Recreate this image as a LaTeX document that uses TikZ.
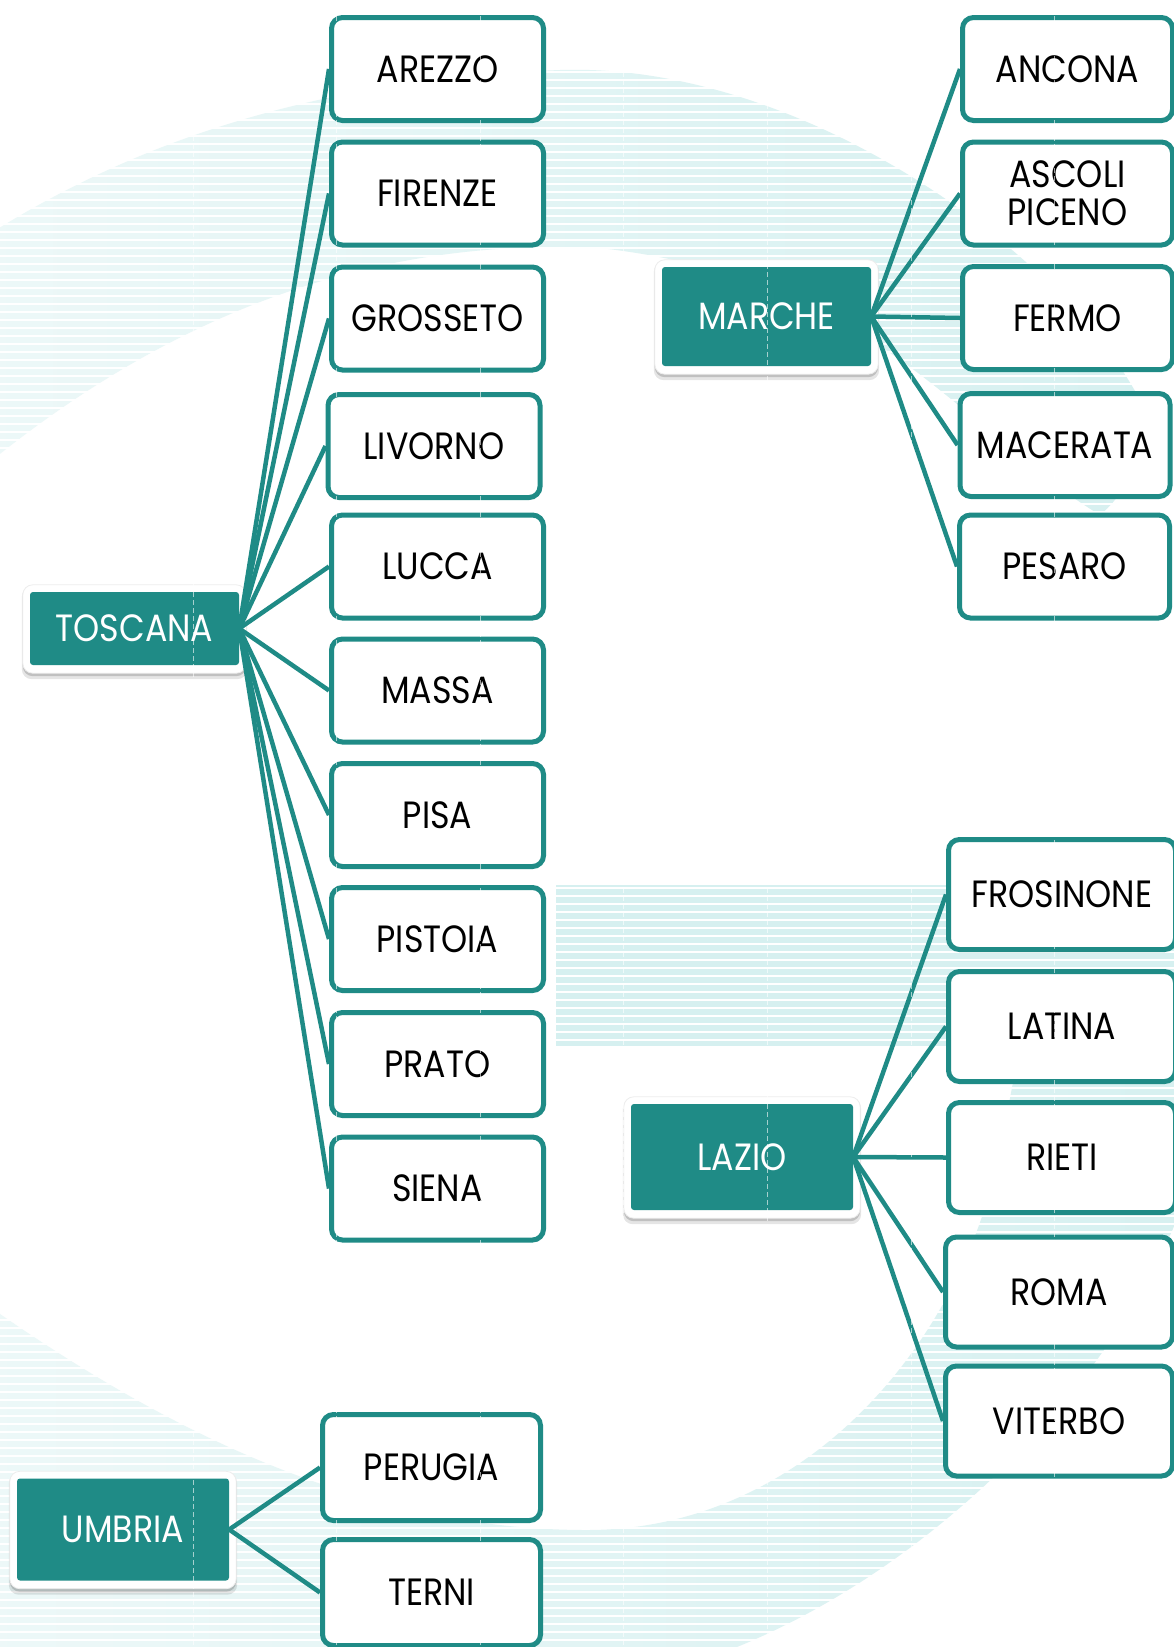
\documentclass[tikz,border=0pt]{standalone}
\usepackage{fontspec}
\setmainfont{Poppins}[FakeStretch=0.875]
\usetikzlibrary{calc}
\pgfdeclarelayer{bg}
\pgfsetlayers{bg,main}
\definecolor{tealmain}{HTML}{1F8B86}
\definecolor{bandstrong}{HTML}{D6F0F0}
\definecolor{bandsoft}{HTML}{EDF8F8}

\begin{document}
\begin{tikzpicture}[x=1pt,y=-1pt,
  leaf/.style={draw=tealmain, line width=5pt, fill=white, rounded corners=11pt,
    minimum width=212pt, minimum height=103pt, inner sep=0pt, align=center,
    text=black, font=\fontsize{38}{38}\selectfont},
  region/.style={fill=tealmain, text=white, rounded corners=3pt, inner sep=0pt,
    font=\fontsize{38}{38}\selectfont},
  link/.style={draw=tealmain, line width=4.5pt},
  frame/.style={fill=white, draw=black!7, line width=0.8pt, rounded corners=10pt},
  softshadow/.style={fill=black, rounded corners=10pt},
  stripe/.style={draw=white, line width=2pt},
  seam/.style={draw=white, opacity=0.6, line width=0.8pt, dash pattern=on 5pt off 3pt}]

\useasboundingbox (0,0) rectangle (1174,1647);

% ---- decorative striped bands behind the chart ----
\begin{pgfonlayer}{bg}
\begin{scope}
  \clip (0,0) rectangle (1174,1647);
  \fill[white] (0,0) rectangle (1174,1647);
  % upper arc
  \shade[left color=bandsoft, right color=bandstrong]
    (-20,240) .. controls (120,150) and (300,80) .. (560,70)
    .. controls (800,62) and (1060,250) .. (1140,400)
    .. controls (1150,450) and (1125,495) .. (1100,515)
    .. controls (960,430) and (880,280) .. (600,248)
    .. controls (350,236) and (150,330) .. (-20,470) -- cycle;
  % horizontal bar
  \fill[bandstrong] (556,885) rectangle (1190,1046);
  % lower arc
  \shade[left color=bandsoft, right color=bandstrong]
    (-20,1300) .. controls (150,1420) and (350,1530) .. (587,1530)
    .. controls (800,1530) and (960,1350) .. (1000,1150)
    -- (1020,1046) -- (1200,1046) -- (1200,1150)
    .. controls (1150,1350) and (950,1560) .. (737,1647)
    -- (737,1700) -- (-20,1700) -- cycle;
  % thin white rules across the bands
  \foreach \k in {0,...,206}
    \draw[stripe] (0,{\k*8}) -- (1174,{\k*8});
\end{scope}
\end{pgfonlayer}

% ---- regions ----
\node[region, minimum width=209pt, minimum height=73pt]  (toscana) at (134.5,628.5) {TOSCANA};
\node[region, minimum width=209pt, minimum height=99pt]  (marche)  at (766.5,316.5) {MARCHE};
\node[region, minimum width=222pt, minimum height=106pt] (lazio)   at (742,1157)    {LAZIO};
\node[region, minimum width=212pt, minimum height=102pt] (umbria)  at (123,1529.5)  {UMBRIA};

% white frames with a soft shadow under each region
\begin{pgfonlayer}{bg}
\foreach \r in {toscana,marche,lazio,umbria}{
  \fill[softshadow, opacity=0.10] ($(\r.north west)+(-8,-5)$) rectangle ($(\r.south east)+(8,14)$);
  \fill[softshadow, opacity=0.16] ($(\r.north west)+(-7,-4)$) rectangle ($(\r.south east)+(7,11)$);
  \path[frame] ($(\r.north west)+(-7,-7)$) rectangle ($(\r.south east)+(7,8)$);
}
\end{pgfonlayer}

% ---- provinces of Toscana ----
\node[leaf] (arezzo)   at (437.5,69)    {AREZZO};
\node[leaf] (firenze)  at (437.5,193.5) {FIRENZE};
\node[leaf] (grosseto) at (437.5,318.5) {GROSSETO};
\node[leaf] (livorno)  at (434,446)     {LIVORNO};
\node[leaf] (lucca)    at (437.5,566.5) {LUCCA};
\node[leaf] (massa)    at (437.5,690.5) {MASSA};
\node[leaf] (pisa)     at (437.5,815)   {PISA};
\node[leaf] (pistoia)  at (437.5,939)   {PISTOIA};
\node[leaf] (prato)    at (437.5,1064)  {PRATO};
\node[leaf] (siena)    at (437.5,1188.5){SIENA};

% ---- provinces of Marche ----
\node[leaf, minimum width=210pt] (ancona)   at (1067.5,69)    {ANCONA};
\node[leaf, minimum width=210pt] (ascoli)   at (1067.5,193.5) {ASCOLI\\PICENO};
\node[leaf, minimum width=210pt] (fermo)    at (1067.5,318)   {FERMO};
\node[leaf, minimum width=210pt] (macerata) at (1065,445)     {MACERATA};
\node[leaf, minimum width=210pt] (pesaro)   at (1064.5,566.5) {PESARO};

% ---- provinces of Lazio ----
\node[leaf, minimum width=227pt, minimum height=110pt] (frosinone) at (1062,894.5)  {FROSINONE};
\node[leaf, minimum width=227pt, minimum height=110pt] (latina)    at (1062,1026.5) {LATINA};
\node[leaf, minimum width=227pt, minimum height=110pt] (rieti)     at (1062,1157.5) {RIETI};
\node[leaf, minimum width=227pt, minimum height=110pt] (roma)      at (1059,1292)   {ROMA};
\node[leaf, minimum width=227pt, minimum height=110pt] (viterbo)   at (1059,1421)   {VITERBO};

% ---- provinces of Umbria ----
\node[leaf, minimum width=218pt, minimum height=106pt] (perugia) at (431.5,1467.5) {PERUGIA};
\node[leaf, minimum width=218pt, minimum height=106pt] (terni)   at (431.5,1592.5) {TERNI};

% ---- connectors ----
\foreach \p in {arezzo,firenze,grosseto,livorno,lucca,massa,pisa,pistoia,prato,siena}
  \draw[link] (toscana.east) -- (\p.west);
\foreach \p in {ancona,ascoli,fermo,macerata,pesaro}
  \draw[link] (marche.east) -- (\p.west);
\foreach \p in {frosinone,latina,rieti,roma,viterbo}
  \draw[link] (lazio.east) -- (\p.west);
\foreach \p in {perugia,terni}
  \draw[link] (umbria.east) -- (\p.west);

% ---- faint vertical guide lines ----
\foreach \i in {1,...,7}
  \draw[seam] ({49.3+143.6*\i},0) -- ({49.3+143.6*\i},1647);
\end{tikzpicture}
\end{document}
